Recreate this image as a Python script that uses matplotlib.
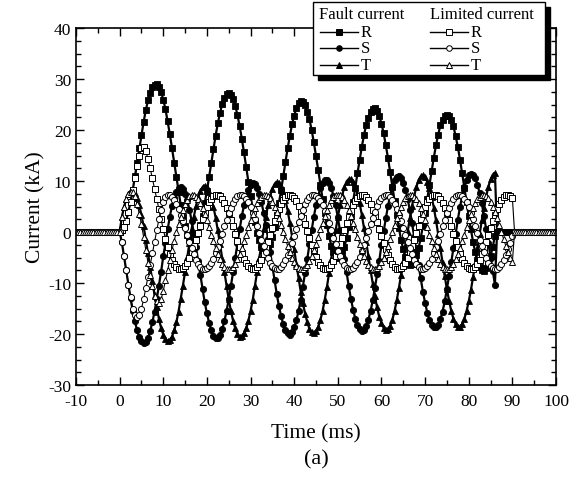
import numpy as np
import matplotlib
matplotlib.use("Agg")
import matplotlib.pyplot as plt
from matplotlib.lines import Line2D
from matplotlib.patches import Rectangle
from matplotlib.ticker import MultipleLocator

plt.rcParams['font.family'] = ['Liberation Serif', 'DejaVu Serif']
plt.rcParams['axes.unicode_minus'] = False

# time axis, 0.5 ms steps; before the fault and after clearing the currents sit at 0
time_ms = np.arange(-10, 100.5, 0.5)
fault_start = 20  # index of t = 0 ms

# fault (prospective) currents, kA, t = 0 ... 86 ms
fault_R = [0.0, 0.3, 1.0, 2.2, 3.9, 5.9, 8.2, 10.9, 13.6, 16.4, 19.0, 21.6, 23.9, 25.8, 27.2, 28.4, 28.9, 29.0, 28.4, 27.5,
           25.9, 24.1, 21.7, 19.2, 16.4, 13.6, 10.7, 7.9, 5.3, 3.0, 1.1, -0.5, -1.4, -2.0, -1.9, -1.4, -0.2, 1.3, 3.2, 5.6,
           8.1, 10.8, 13.5, 16.3, 18.9, 21.3, 23.3, 25.1, 26.2, 27.0, 27.2, 26.9, 26.0, 24.8, 22.9, 20.8, 18.3, 15.6, 12.7, 9.9,
           7.1, 4.5, 2.0, -0.1, -1.6, -2.9, -3.5, -3.7, -3.2, -2.4, -0.9, 0.9, 3.1, 5.6, 8.2, 11.0, 13.7, 16.4, 18.8, 21.1,
           22.8, 24.3, 25.2, 25.7, 25.5, 24.9, 23.6, 22.1, 20.0, 17.6, 14.9, 12.2, 9.3, 6.5, 3.7, 1.3, -0.8, -2.7, -3.9, -4.8,
           -5.1, -4.9, -4.1, -3.0, -1.2, 0.9, 3.2, 5.9, 8.7, 11.5, 14.1, 16.7, 19.0, 21.0, 22.4, 23.6, 24.2, 24.3, 23.7, 22.8,
           21.2, 19.4, 17.0, 14.5, 11.7, 8.9, 6.1, 3.4, 0.8, -1.6, -3.4, -4.9, -5.8, -6.4, -6.3, -5.8, -4.6, -3.2, -1.2, 1.2,
           3.8, 6.5, 9.2, 12.0, 14.6, 17.0, 19.1, 20.9, 22.0, 22.8, 23.0, 22.7, 21.9, 20.7, 18.8, 16.7, 14.2, 11.5, 8.7, 5.9,
           3.1, 0.5, -2.0, -4.0, -5.5, -6.8, -7.4, -7.6, -7.1, -6.2, -4.7, -3.0, -0.7]
fault_S = [0.0, -2.0, -4.7, -7.5, -10.3, -13.0, -15.4, -17.5, -19.3, -20.6, -21.4, -21.7, -21.5, -20.8, -19.4, -17.7, -15.6, -13.2, -10.5, -7.8,
           -4.8, -2.1, 0.5, 3.0, 5.1, 6.7, 7.9, 8.6, 8.8, 8.4, 7.5, 6.2, 4.4, 2.2, -0.3, -3.0, -5.7, -8.5, -11.2, -13.8,
           -15.9, -17.8, -19.3, -20.3, -20.7, -20.7, -20.2, -19.1, -17.5, -15.5, -13.2, -10.6, -7.8, -5.0, -2.2, 0.5, 3.1, 5.2, 7.0, 8.3,
           9.2, 9.6, 9.4, 8.7, 7.4, 5.8, 3.8, 1.4, -1.3, -4.0, -6.8, -9.5, -12.1, -14.5, -16.5, -18.1, -19.3, -19.9, -20.1, -19.7,
           -18.7, -17.3, -15.5, -13.3, -10.7, -8.0, -5.2, -2.4, 0.3, 3.0, 5.2, 7.1, 8.6, 9.7, 10.2, 10.2, 9.7, 8.6, 7.1, 5.2,
           2.9, 0.3, -2.4, -5.2, -7.9, -10.6, -13.1, -15.2, -17.0, -18.3, -19.1, -19.4, -19.2, -18.5, -17.2, -15.5, -13.4, -11.0, -8.3, -5.6,
           -2.6, 0.1, 2.7, 5.1, 7.2, 8.9, 10.1, 10.7, 10.9, 10.5, 9.6, 8.3, 6.5, 4.3, 1.8, -0.9, -3.7, -6.5, -9.1, -11.7,
           -13.9, -15.8, -17.3, -18.3, -18.7, -18.7, -18.2, -17.1, -15.6, -13.6, -11.2, -8.6, -5.9, -3.1, -0.3, 2.4, 4.9, 7.1, 8.9, 10.2,
           11.1, 11.4, 11.2, 10.6, 9.3, 7.6, 5.6, 3.2, 0.5, -2.2, -5.0, -7.7, -10.3]
fault_T = [0.0, 2.9, 4.9, 6.4, 7.5, 8.1, 8.1, 7.6, 6.6, 5.2, 3.3, 1.1, -1.5, -4.2, -6.9, -9.7, -12.3, -14.8, -17.0, -18.8,
           -20.1, -21.0, -21.4, -21.2, -20.5, -19.3, -17.7, -15.6, -13.1, -10.5, -7.8, -4.9, -2.1, 0.6, 3.0, 5.1, 6.8, 8.1, 8.8, 9.1,
           8.8, 7.9, 6.6, 4.9, 2.8, 0.3, -2.4, -5.2, -7.9, -10.6, -13.2, -15.5, -17.4, -18.9, -20.0, -20.5, -20.4, -19.9, -18.9, -17.4,
           -15.5, -13.3, -10.6, -7.9, -5.1, -2.3, 0.5, 3.0, 5.2, 7.1, 8.5, 9.4, 9.8, 9.7, 9.1, 7.9, 6.3, 4.2, 1.8, -0.8,
           -3.4, -6.3, -9.0, -11.7, -14.0, -16.0, -17.7, -19.0, -19.7, -19.9, -19.5, -18.6, -17.3, -15.5, -13.3, -10.8, -8.1, -5.3, -2.5, 0.3,
           2.9, 5.2, 7.2, 8.8, 9.9, 10.4, 10.4, 9.9, 8.9, 7.5, 5.6, 3.4, 0.8, -1.9, -4.7, -7.5, -10.1, -12.6, -14.8, -16.6,
           -17.9, -18.8, -19.2, -19.0, -18.4, -17.2, -15.5, -13.4, -11.0, -8.4, -5.7, -2.8, 0.0, 2.7, 5.1, 7.1, 8.8, 10.2, 10.9, 11.1,
           10.8, 9.9, 8.6, 6.9, 4.8, 2.3, -0.4, -3.2, -6.0, -8.7, -11.2, -13.5, -15.5, -17.0, -18.1, -18.6, -18.6, -18.1, -17.0, -15.5,
           -13.6, -11.4, -8.8, -6.1, -3.2, -0.4, 2.3, 4.8, 7.0, 8.9, 10.3, 11.2, 11.6]

# limited currents, kA, t = 0 ... 90 ms
lim_R = [0.0, 0.3, 1.0, 2.2, 3.9, 5.9, 8.2, 10.6, 13.0, 15.0, 16.4, 16.7, 15.8, 14.3, 12.5, 10.5, 8.5, 6.5, 4.5, 2.5,
         0.5, -1.3, -3.0, -4.3, -5.5, -6.3, -6.9, -7.2, -7.3, -7.1, -6.7, -6.0, -5.1, -4.0, -2.8, -1.5, -0.2, 1.2, 2.5, 3.8,
         4.9, 5.8, 6.5, 7.0, 7.3, 7.3, 7.0, 6.5, 5.7, 4.8, 3.7, 2.4, 1.1, -0.3, -1.7, -3.0, -4.2, -5.2, -6.1, -6.7,
         -7.1, -7.3, -7.2, -6.8, -6.2, -5.4, -4.4, -3.2, -2.0, -0.6, 0.8, 2.1, 3.4, 4.5, 5.5, 6.3, 6.9, 7.2, 7.3, 7.1,
         6.7, 6.0, 5.1, 4.0, 2.8, 1.5, 0.2, -1.2, -2.5, -3.8, -4.9, -5.8, -6.5, -7.0, -7.3, -7.3, -7.0, -6.5, -5.7, -4.8,
         -3.7, -2.4, -1.1, 0.3, 1.7, 3.0, 4.2, 5.2, 6.1, 6.7, 7.1, 7.3, 7.2, 6.8, 6.2, 5.4, 4.4, 3.2, 2.0, 0.6,
         -0.8, -2.1, -3.4, -4.5, -5.5, -6.3, -6.9, -7.2, -7.3, -7.1, -6.7, -6.0, -5.1, -4.0, -2.8, -1.5, -0.2, 1.2, 2.5, 3.8,
         4.9, 5.8, 6.5, 7.0, 7.3, 7.3, 7.0, 6.5, 5.7, 4.8, 3.7, 2.4, 1.1, -0.3, -1.7, -3.0, -4.2, -5.2, -6.1, -6.7,
         -7.1, -7.3, -7.2, -6.8, -6.2, -5.4, -4.4, -3.2, -2.0, -0.6, 0.8, 2.1, 3.4, 4.5, 5.5, 6.3, 6.9, 7.2, 7.3, 7.1,
         6.7]
lim_S = [0.0, -2.0, -4.7, -7.5, -10.3, -12.8, -15.0, -16.2, -16.7, -16.2, -15.0, -13.2, -11.0, -8.8, -6.5, -4.2, -2.0, 0.3, 2.5, 4.3,
         5.8, 6.8, 7.3, 7.2, 6.9, 6.3, 5.5, 4.5, 3.4, 2.1, 0.8, -0.6, -2.0, -3.2, -4.4, -5.4, -6.2, -6.8, -7.2, -7.3,
         -7.1, -6.7, -6.1, -5.2, -4.2, -3.0, -1.7, -0.3, 1.1, 2.4, 3.7, 4.8, 5.7, 6.5, 7.0, 7.3, 7.3, 7.0, 6.5, 5.8,
         4.9, 3.8, 2.5, 1.2, -0.2, -1.5, -2.8, -4.0, -5.1, -6.0, -6.7, -7.1, -7.3, -7.2, -6.9, -6.3, -5.5, -4.5, -3.4, -2.1,
         -0.8, 0.6, 2.0, 3.2, 4.4, 5.4, 6.2, 6.8, 7.2, 7.3, 7.1, 6.7, 6.1, 5.2, 4.2, 3.0, 1.7, 0.3, -1.1, -2.4,
         -3.7, -4.8, -5.7, -6.5, -7.0, -7.3, -7.3, -7.0, -6.5, -5.8, -4.9, -3.8, -2.5, -1.2, 0.2, 1.5, 2.8, 4.0, 5.1, 6.0,
         6.7, 7.1, 7.3, 7.2, 6.9, 6.3, 5.5, 4.5, 3.4, 2.1, 0.8, -0.6, -2.0, -3.2, -4.4, -5.4, -6.2, -6.8, -7.2, -7.3,
         -7.1, -6.7, -6.1, -5.2, -4.2, -3.0, -1.7, -0.3, 1.1, 2.4, 3.7, 4.8, 5.7, 6.5, 7.0, 7.3, 7.3, 7.0, 6.5, 5.8,
         4.9, 3.8, 2.5, 1.2, -0.2, -1.5, -2.8, -4.0, -5.1, -6.0, -6.7, -7.1, -7.3, -7.2, -6.9, -6.3, -5.5, -4.5, -3.4, -2.1,
         -0.8]
lim_T = [0.0, 2.9, 4.9, 6.4, 7.5, 7.9, 7.8, 7.0, 5.5, 3.6, 1.5, -1.0, -3.5, -6.0, -8.5, -10.6, -12.5, -13.6, -14.0, -13.2,
         -11.5, -9.5, -7.5, -5.5, -3.5, -1.7, 0.0, 1.6, 3.0, 4.3, 5.5, 6.3, 7.0, 7.3, 7.2, 6.9, 6.4, 5.6, 4.7, 3.5,
         2.3, 0.9, -0.5, -1.8, -3.1, -4.3, -5.3, -6.2, -6.8, -7.2, -7.3, -7.2, -6.8, -6.2, -5.3, -4.3, -3.1, -1.8, -0.5, 0.9,
         2.3, 3.5, 4.7, 5.6, 6.4, 6.9, 7.2, 7.3, 7.1, 6.6, 5.9, 5.0, 3.9, 2.7, 1.4, 0.0, -1.4, -2.7, -3.9, -5.0,
         -5.9, -6.6, -7.1, -7.3, -7.2, -6.9, -6.4, -5.6, -4.7, -3.5, -2.3, -0.9, 0.5, 1.8, 3.1, 4.3, 5.3, 6.2, 6.8, 7.2,
         7.3, 7.2, 6.8, 6.2, 5.3, 4.3, 3.1, 1.8, 0.5, -0.9, -2.3, -3.5, -4.7, -5.6, -6.4, -6.9, -7.2, -7.3, -7.1, -6.6,
         -5.9, -5.0, -3.9, -2.7, -1.4, 0.0, 1.4, 2.7, 3.9, 5.0, 5.9, 6.6, 7.1, 7.3, 7.2, 6.9, 6.4, 5.6, 4.7, 3.5,
         2.3, 0.9, -0.5, -1.8, -3.1, -4.3, -5.3, -6.2, -6.8, -7.2, -7.3, -7.2, -6.8, -6.2, -5.3, -4.3, -3.1, -1.8, -0.5, 0.9,
         2.3, 3.5, 4.7, 5.6, 6.4, 6.9, 7.2, 7.3, 7.1, 6.6, 5.9, 5.0, 3.9, 2.7, 1.4, 0.0, -1.4, -2.7, -3.9, -5.0,
         -5.9]

phases = ['R', 'S', 'T']
markers = ['s', 'o', '^']


def full_trace(vals):
    y = np.zeros(len(time_ms))
    y[fault_start:fault_start + len(vals)] = vals
    return y


fig = plt.figure(figsize=(5.77, 4.81), dpi=100)
ax = fig.add_axes([76 / 577, 1 - 386 / 481, 480 / 577, 357 / 481])

for vals, m in zip([fault_R, fault_S, fault_T], markers):
    ax.plot(time_ms, full_trace(vals), color='black', lw=1.6, marker=m,
            ms=4.5, mfc='black', mec='black', mew=0.6)
for vals, m in zip([lim_R, lim_S, lim_T], markers):
    ax.plot(time_ms, full_trace(vals), color='black', lw=0.8, marker=m,
            ms=4.4, mfc='white', mec='black', mew=0.7)

ax.set_xlim(-10, 100)
ax.set_ylim(-30, 40)
ax.xaxis.set_major_locator(MultipleLocator(10))
ax.xaxis.set_minor_locator(MultipleLocator(5))
ax.yaxis.set_major_locator(MultipleLocator(10))
ax.yaxis.set_minor_locator(MultipleLocator(2.5))
ax.tick_params(which='both', direction='in', top=True, right=True,
               labelsize=12.5, width=1.0)
ax.tick_params(axis='x', pad=6)
ax.tick_params(which='major', length=6)
ax.tick_params(which='minor', length=3.5)
for s in ax.spines.values():
    s.set_linewidth(1.2)
ax.set_xlabel('Time (ms)', fontsize=15.5, labelpad=10)
ax.set_ylabel('Current (kA)', fontsize=15.5, labelpad=2)
fig.text(0.5 * (76 + 556) / 577, 1 - 460 / 481, '(a)', fontsize=16,
         ha='center', va='center')


# legend box drawn by hand (two titled columns, shadow)
def fx(px):
    return px / 577


def fy(py):
    return 1 - py / 481


bx0, bx1, by0, by1 = 313, 545, 3, 76
fig.add_artist(Rectangle((fx(bx0 + 5), fy(by1 + 5)), fx(bx1 - bx0), fy(by0) - fy(by1),
                         transform=fig.transFigure, facecolor='black', edgecolor='black',
                         zorder=10))
fig.add_artist(Rectangle((fx(bx0), fy(by1)), fx(bx1 - bx0), fy(by0) - fy(by1),
                         transform=fig.transFigure, facecolor='white', edgecolor='black',
                         lw=1.0, zorder=11))
fig.text(fx(319), fy(15), 'Fault current', fontsize=12, va='center', zorder=12)
fig.text(fx(430), fy(15), 'Limited current', fontsize=12, va='center', zorder=12)
row_y = [33, 49, 66]
for ph, m, ry in zip(phases, markers, row_y):
    for x0, fc in [(320, 'black'), (430, 'white')]:
        fig.add_artist(Line2D([fx(x0), fx(x0 + 38)], [fy(ry), fy(ry)],
                              transform=fig.transFigure, color='black', lw=1.0, zorder=12))
        fig.add_artist(Line2D([fx(x0 + 19)], [fy(ry)], transform=fig.transFigure,
                              marker=m, ms=4, mfc=fc, mec='black', mew=0.7, zorder=13))
        fig.text(fx(x0 + 41), fy(ry), ph, fontsize=12, va='center', zorder=12)

fig.savefig('out.png', dpi=100)
